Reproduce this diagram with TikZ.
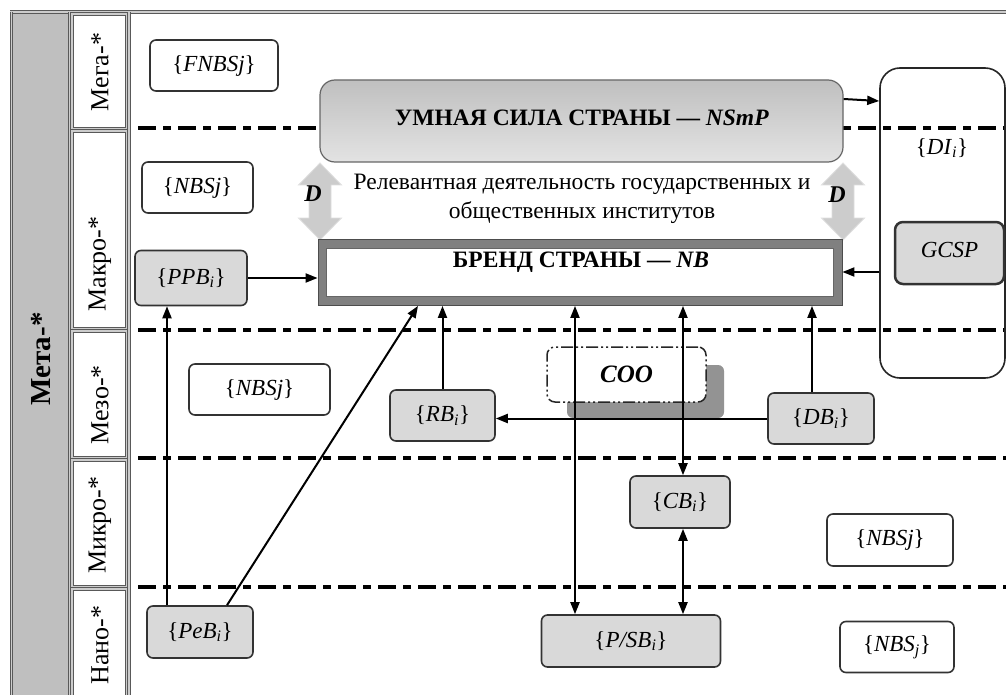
\documentclass[tikz,border=0pt]{standalone}
\usepackage{fontspec}
\setmainfont{Liberation Serif}
\usetikzlibrary{arrows.meta}
\newcommand\sbi[1]{\textsubscript{\textit{#1}}}
\begin{document}
\begin{tikzpicture}[x=1pt,y=-1pt,
  box/.style={draw=black!80, line width=1.6pt, rounded corners=6pt, inner sep=0pt, font=\fontsize{23}{26}\selectfont},
  wbox/.style={box, fill=white},
  gbox/.style={box, fill=gray!30},
  arr/.style={line width=2pt, -{Triangle[length=12pt,width=9pt]}},
  darr/.style={line width=2pt, {Triangle[length=12pt,width=9pt]}-{Triangle[length=12pt,width=9pt]}},
  lvl/.style={line width=3.2pt, dash pattern=on 18pt off 7pt on 8pt off 7pt},
  frame/.style={draw=black!65, double=gray!40, double distance=1.6pt, line width=0.8pt},
  lbl/.style={rotate=90, font=\fontsize{26}{28}\selectfont},
  dbig/.style={fill=gray!40, draw=gray!25, line width=0.8pt},
  dshape/.pic={\filldraw[dbig] (0,0) -- (21.5,22) -- (11,22) -- (11,55) -- (21.5,55) -- (0,77) -- (-21.5,55) -- (-11,55) -- (-11,22) -- (-21.5,22) -- cycle;}
]
\useasboundingbox (0,0) rectangle (1006,695);
\fill[white] (0,0) rectangle (1006,695);

% frame and level columns
\fill[gray!50] (12,13) rectangle (70,700);
\draw[frame] (10,12) -- (1010,12);
\draw[frame] (11.5,12) -- (11.5,700);
\draw[frame] (70,12) -- (70,700);
\draw[frame] (72,14) rectangle (127,129);
\draw[frame] (72,131) rectangle (127,329);
\draw[frame] (72,331) rectangle (127,458);
\draw[frame] (72,460) rectangle (127,587);
\draw[frame] (72,589) rectangle (127,705);
\draw[frame] (129,12) -- (129,700);

\node[rotate=90, font=\bfseries\fontsize{29}{30}\selectfont] (meta) at (41,359) {Мета-*};
\node[lbl] (mega) at (100,72) {Мега-*};
\node[lbl] (makro) at (100,264) {Макро-*};
\node[lbl] (mezo) at (100,405) {Мезо-*};
\node[lbl] (mikro) at (100,525) {Микро-*};
\node[lbl] (nano) at (100,645) {Нано-*};

% level separators
\draw[lvl] (138,128) -- (1006,128);
\draw[lvl] (138,330) -- (1006,330);
\draw[lvl] (138,458) -- (1006,458);
\draw[lvl] (138,587) -- (1006,587);

% smart power
\node[draw=black!60, line width=1.2pt, rounded corners=15pt, top color=gray!50, bottom color=gray!22,
      minimum width=523pt, minimum height=82pt, inner sep=0pt] (nsmp) at (581.5,121) {};
\node[font=\bfseries\fontsize{23.5}{26}\selectfont] (nsmptext) at (582,118) {УМНАЯ СИЛА СТРАНЫ — \textit{NSmP}};

% relevant activity
\node[align=center, font=\fontsize{23.5}{29}\selectfont] (rel) at (582,199) {Релевантная деятельность государственных и\\общественных институтов};
\pic at (320,163) {dshape};
\pic at (843,163) {dshape};
\node[font=\bfseries\itshape\fontsize{24}{26}\selectfont] (dl) at (313,194) {D};
\node[font=\bfseries\itshape\fontsize{24}{26}\selectfont] (dr) at (837,195) {D};

% national brand
\node[draw=black!70, fill=gray, line width=0.8pt, minimum width=524pt, minimum height=66pt, inner sep=0pt] (nb) at (580,272.5) {};
\node[draw=black!60, fill=white, line width=0.8pt, minimum width=507pt, minimum height=48pt, inner sep=0pt] (nbin) at (579.5,272) {};
\node[font=\bfseries\fontsize{23.5}{26}\selectfont] (nbtext) at (581,262) {БРЕНД СТРАНЫ — \textit{NB}};

% DI column
\node[draw=black!85, line width=1.6pt, rounded corners=20pt, minimum width=125pt, minimum height=310pt, inner sep=0pt] (di) at (942.5,223) {};
\node[font=\fontsize{23}{26}\selectfont] (ditext) at (942,148) {\{\textit{DI}\sbi{i}\}};
\node[gbox, line width=2.5pt, rounded corners=8pt, minimum width=109pt, minimum height=62pt] (gcsp) at (949.5,253) {\raisebox{6pt}{\textit{GCSP}}};

% small boxes
\node[wbox, minimum width=128pt, minimum height=51pt] (fnbs) at (214,65.5) {\{\textit{FNBSj}\}};
\node[wbox, minimum width=111pt, minimum height=51pt] (nbsmac) at (197.5,187.5) {\{\textit{NBSj}\}};
\node[gbox, minimum width=112pt, minimum height=55pt] (ppb) at (191,278) {\{\textit{PPB}\sbi{i}\}};
\node[wbox, minimum width=141pt, minimum height=51pt] (nbsmez) at (259.5,389.5) {\{\textit{NBSj}\}\hspace{34pt}};
\node[gbox, minimum width=105pt, minimum height=51pt] (rb) at (442.5,415.5) {\{\textit{RB}\sbi{i}\}};
\node[gbox, minimum width=106pt, minimum height=51pt] (db) at (821,418.5) {\{\textit{DB}\sbi{i}\}};
\node[gbox, minimum width=100pt, minimum height=52pt] (cb) at (680,502) {\{\textit{CB}\sbi{i}\}};
\node[gbox, minimum width=179pt, minimum height=52pt] (psb) at (631,641) {\{\textit{P/SB}\sbi{i}\}};
\node[gbox, minimum width=106pt, minimum height=52pt] (peb) at (200,632) {\{\textit{PeB}\sbi{i}\}};
\node[wbox, minimum width=126pt, minimum height=52pt] (nbsmic) at (890,540) {\{\textit{NBSj}\}};
\node[wbox, minimum width=114pt, minimum height=51pt] (nbsnano) at (897,647) {\{\textit{NBS}\sbi{j}\}};

% COO
\node[fill=gray!85, rounded corners=6pt, minimum width=157pt, minimum height=53pt, inner sep=0pt] (cooshadow) at (645.5,391.5) {};
\node[draw=black!85, fill=white, line width=1.5pt, rounded corners=8pt, dash pattern=on 12pt off 3pt on 2pt off 3pt on 2pt off 3pt,
      minimum width=159pt, minimum height=55pt, inner sep=0pt, font=\bfseries\itshape\fontsize{25}{26}\selectfont] (coo) at (626.5,374.5) {\textit{COO}};

% connectors
\draw[arr] (nsmp.east |- 0,99) -- (di.west |- 0,101);
\draw[arr] (di.west |- nbin.center) -- (nb.east |- nbin.center);
\draw[arr] (ppb.east) -- (ppb.east -| nb.west);
\draw[arr] (rb.north) -- (rb.north |- nb.south);
\draw[arr] ([xshift=-9pt]db.north) -- ([xshift=-9pt]db.north |- nb.south);
\draw[arr] (db.west) -- (db.west -| rb.east);
\draw[arr] ([xshift=-33pt]peb.north) -- ([xshift=-33pt]peb.north |- ppb.south);
\draw[arr] ([xshift=27pt]peb.north) -- ([xshift=-162pt]nb.south);
\draw[darr] ([xshift=-5pt]nb.south) -- ([xshift=-56pt]psb.north);
\draw[darr] ([xshift=103pt]nb.south) -- ([xshift=3pt]cb.north);
\draw[darr] ([xshift=3pt]cb.south) -- ([xshift=52pt]psb.north);
\end{tikzpicture}
\end{document}
